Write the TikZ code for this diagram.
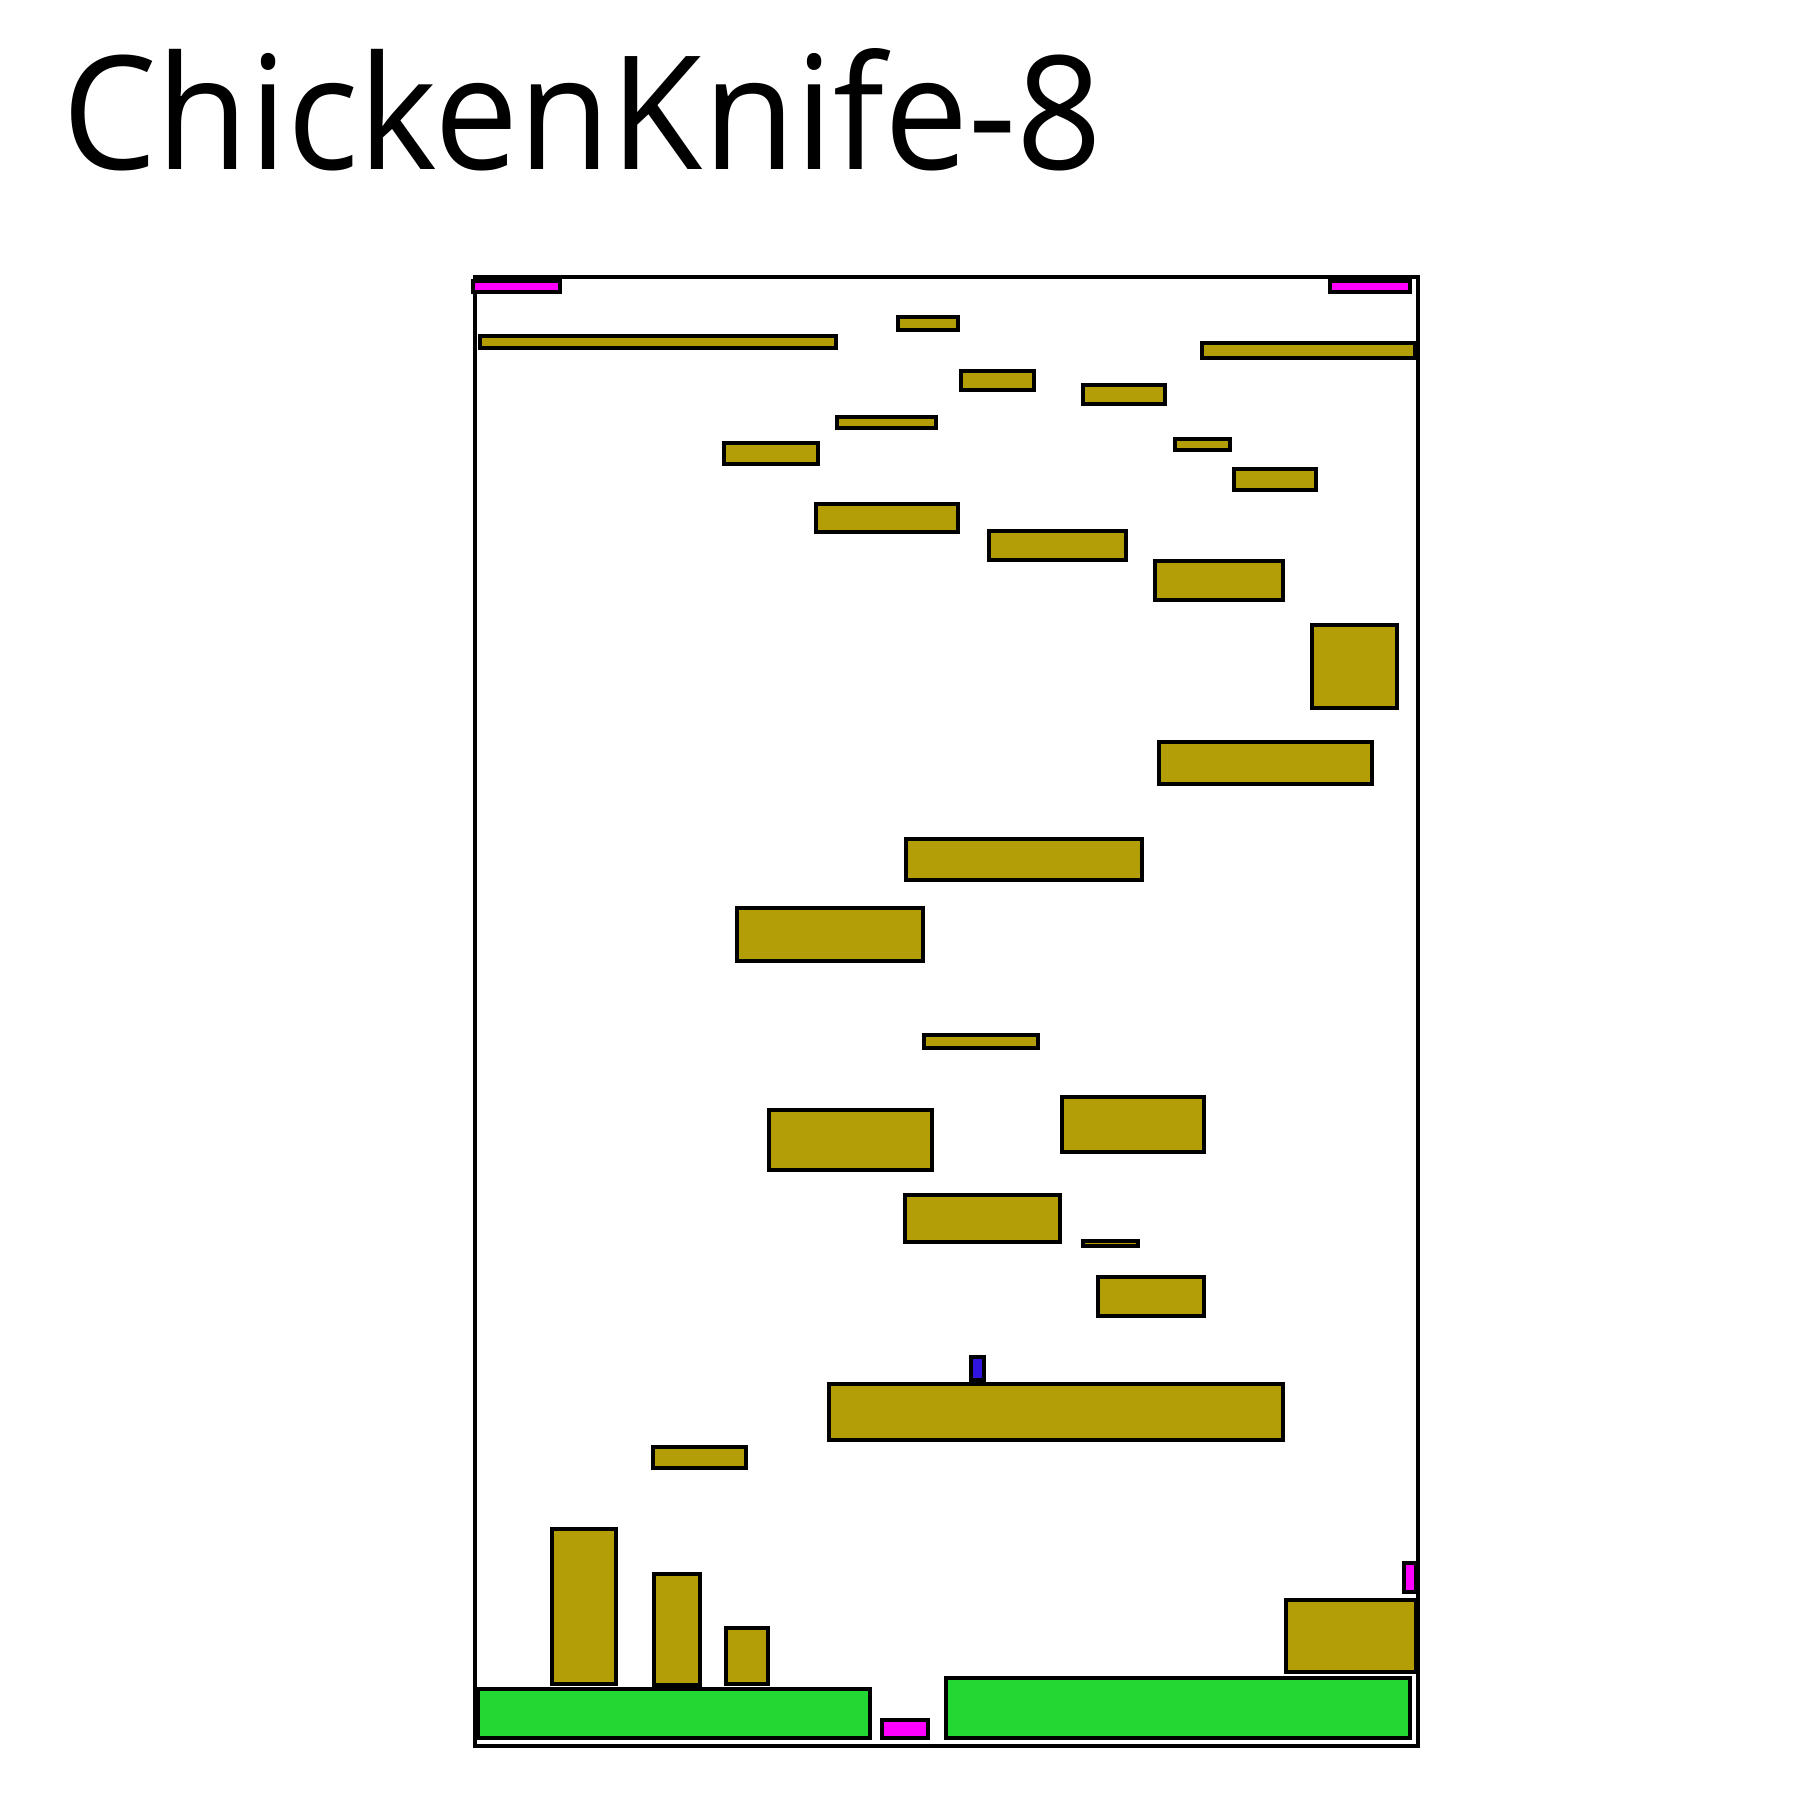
\documentclass[tikz,border=0pt]{standalone}
\usepackage{fontspec}
\setmainfont{Open Sans}
\definecolor{olivebox}{RGB}{179,158,8}
\definecolor{magbox}{RGB}{255,0,255}
\definecolor{greenbox}{RGB}{36,216,52}
\definecolor{bluebox}{RGB}{48,20,224}
\tikzset{
  frame/.style={draw=black,line width=4pt},
  plat/.style={draw=black,line width=4pt,fill=olivebox},
  hazard/.style={draw=black,line width=4pt,fill=magbox},
  goal/.style={draw=black,line width=4pt,fill=greenbox},
  player/.style={draw=black,line width=4pt,fill=bluebox}
}
\begin{document}
\begin{tikzpicture}[x=1pt,y=-1pt]
\useasboundingbox (0,0) rectangle (1800,1800);
\node[anchor=base west,inner sep=0pt] (title) at (62,169) {\resizebox{1040pt}{121pt}{ChickenKnife-8}};
\draw[frame] (475,277) rectangle (1418,1746);
% platforms
\draw[plat] (480,336) rectangle (836,348);
\draw[plat] (898,317) rectangle (958,330);
\draw[plat] (1202,343) rectangle (1415,358);
\draw[plat] (961,371) rectangle (1034,390);
\draw[plat] (1083,385) rectangle (1165,404);
\draw[plat] (837,417) rectangle (936,428);
\draw[plat] (1175,439) rectangle (1230,450);
\draw[plat] (724,443) rectangle (818,464);
\draw[plat] (1234,469) rectangle (1316,490);
\draw[plat] (816,504) rectangle (958,532);
\draw[plat] (989,531) rectangle (1126,560);
\draw[plat] (1155,561) rectangle (1283,600);
\draw[plat] (1312,625) rectangle (1397,708);
\draw[plat] (1159,742) rectangle (1372,784);
\draw[plat] (906,839) rectangle (1142,880);
\draw[plat] (737,908) rectangle (923,961);
\draw[plat] (924,1035) rectangle (1038,1048);
\draw[plat] (769,1110) rectangle (932,1170);
\draw[plat] (1062,1097) rectangle (1204,1152);
\draw[plat] (905,1195) rectangle (1060,1242);
\draw[plat] (1083,1241) rectangle (1138,1246);
\draw[plat] (1098,1277) rectangle (1204,1316);
\draw[plat] (829,1384) rectangle (1283,1440);
\draw[plat] (653,1447) rectangle (746,1468);
\draw[plat] (552,1529) rectangle (616,1684);
\draw[plat] (654,1574) rectangle (700,1685);
\draw[plat] (726,1628) rectangle (768,1684);
\draw[plat] (1286,1600) rectangle (1416,1672);
% hazards
\draw[hazard] (473,281) rectangle (560,292);
\draw[hazard] (1330,281) rectangle (1410,292);
\draw[hazard] (882,1720) rectangle (928,1738);
\draw[hazard] (1404,1563) rectangle (1416,1592);
% goals
\draw[goal] (478,1689) rectangle (870,1738);
\draw[goal] (946,1678) rectangle (1410,1738);
% player
\draw[player] (971,1357) rectangle (984,1380);
\end{tikzpicture}
\end{document}
